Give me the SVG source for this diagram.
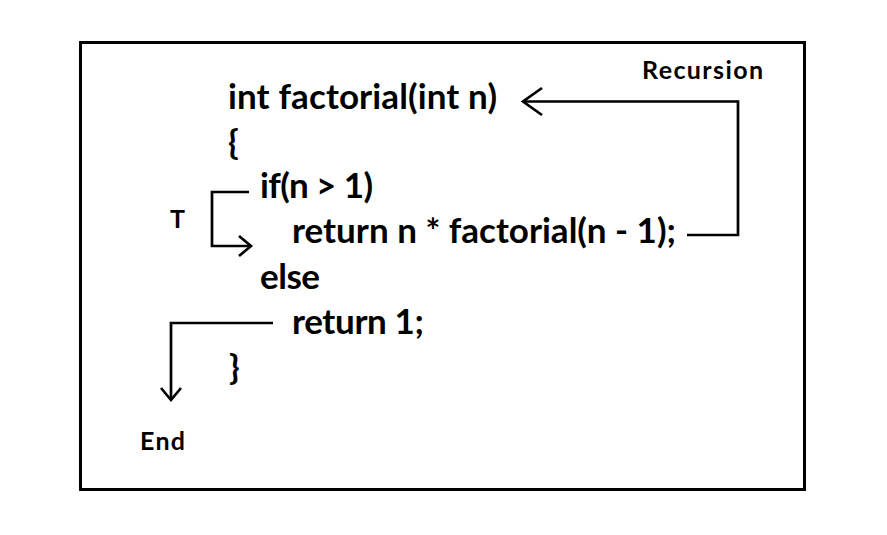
<svg xmlns="http://www.w3.org/2000/svg" width="887" height="535" viewBox="0 0 887 535">
  <defs>
    <style>
      .code { font-family: Lato, "Open Sans", "Liberation Sans", sans-serif; font-weight: bold; font-size: 35px; fill: #000; }
      .label { font-family: Lato, "Open Sans", "Liberation Sans", sans-serif; font-weight: bold; font-size: 25px; fill: #000; }
      .wire { fill: none; stroke: #000; stroke-width: 2.7; stroke-linejoin: miter; }
    </style>
  </defs>
  <rect width="887" height="535" fill="#fff"/>
  <rect x="80.5" y="42.5" width="724" height="447" fill="none" stroke="#000" stroke-width="3"/>

  <g id="code">
    <text class="code" x="228" y="109" textLength="269">int factorial(int n)</text>
    <text class="code" x="228" y="154">{</text>
    <text class="code" x="260" y="198" textLength="113">if(n &gt; 1)</text>
    <text class="code" x="292" y="243" textLength="384">return n * factorial(n - 1);</text>
    <text class="code" x="260" y="289" textLength="60">else</text>
    <text class="code" x="292" y="334" textLength="132">return 1;</text>
    <text class="code" x="229" y="379">}</text>
  </g>

  <g id="label-recursion"><text class="label" x="642" y="79" textLength="121">Recursion</text></g>
  <g id="label-t"><text class="label" x="170" y="228">T</text></g>
  <g id="label-end"><text class="label" x="140" y="450" textLength="45">End</text></g>

  <g id="connectors">
    <!-- recursive call back to the function header -->
    <polyline class="wire" points="687,235 738,235 738,101.5 523,101.5"/>
    <polyline class="wire" points="542,88 523,101.5 542,115"/>
    <!-- true branch of the condition -->
    <polyline class="wire" points="249,192 212,192 212,246 251,246"/>
    <polyline class="wire" points="239,236 251,246 239,256"/>
    <!-- base case leading to the end -->
    <polyline class="wire" points="273,323 171,323 171,400"/>
    <polyline class="wire" points="161,388 171,400 181,388"/>
  </g>
</svg>
